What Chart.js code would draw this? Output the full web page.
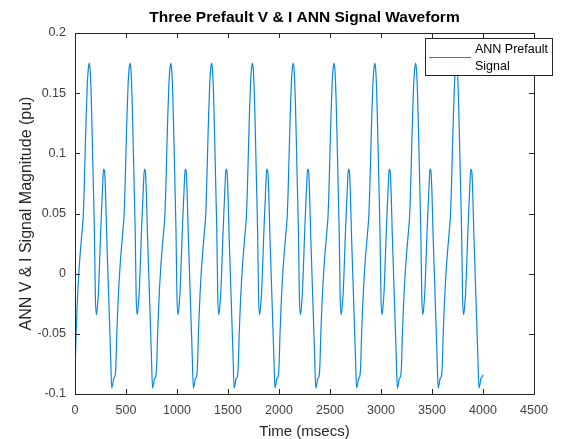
<!DOCTYPE html>
<html>
<head>
<meta charset="utf-8">
<script src="https://cdn.jsdelivr.net/npm/chart.js@4.4.0/dist/chart.umd.min.js"></script>
<style>
  html, body { margin: 0; padding: 0; background: #ffffff; }
  #wrap { width: 562px; height: 439px; }
</style>
</head>
<body>
<div id="wrap"><canvas id="chart" width="562" height="439"></canvas></div>
<script>
const chartTitle = "Three Prefault V & I ANN Signal Waveform";
const xTitle = "Time (msecs)";
const yTitle = "ANN V & I Signal Magnitude (pu)";
const legendLines = ["ANN Prefault", "Signal"];

const xTicks = [0, 500, 1000, 1500, 2000, 2500, 3000, 3500, 4000, 4500];
const yTicks = [-0.1, -0.05, 0, 0.05, 0.1, 0.15, 0.2];

// one sample every 10 ms, 0 .. 4000 ms
const sampleStepMs = 10;
const signalValues = [
  -0.083, -0.052, -0.029, -0.011, 0.004, 0.016, 0.026, 0.036, 0.047, 0.070, 0.102, 0.132, 0.156, 0.170, 0.175, 0.167, 0.144, 0.110, 0.073, 0.036,
  -0.020, -0.034, -0.027, -0.015, 0.007, 0.031, 0.052, 0.071, 0.087, 0.085, 0.066, 0.034, 0.008, -0.018, -0.044, -0.070, -0.095, -0.092, -0.087, -0.086,
  -0.078, -0.050, -0.028, -0.010, 0.004, 0.016, 0.026, 0.036, 0.047, 0.070, 0.102, 0.132, 0.156, 0.170, 0.175, 0.167, 0.144, 0.110, 0.073, 0.036,
  -0.020, -0.034, -0.027, -0.015, 0.007, 0.031, 0.052, 0.071, 0.087, 0.085, 0.066, 0.034, 0.008, -0.018, -0.044, -0.070, -0.095, -0.092, -0.087, -0.086,
  -0.078, -0.050, -0.028, -0.010, 0.004, 0.016, 0.026, 0.036, 0.047, 0.070, 0.102, 0.132, 0.156, 0.170, 0.175, 0.167, 0.144, 0.110, 0.073, 0.036,
  -0.020, -0.034, -0.027, -0.015, 0.007, 0.031, 0.052, 0.071, 0.087, 0.085, 0.066, 0.034, 0.008, -0.018, -0.044, -0.070, -0.095, -0.092, -0.087, -0.086,
  -0.078, -0.050, -0.028, -0.010, 0.004, 0.016, 0.026, 0.036, 0.047, 0.070, 0.102, 0.132, 0.156, 0.170, 0.175, 0.167, 0.144, 0.110, 0.073, 0.036,
  -0.020, -0.034, -0.027, -0.015, 0.007, 0.031, 0.052, 0.071, 0.087, 0.085, 0.066, 0.034, 0.008, -0.018, -0.044, -0.070, -0.095, -0.092, -0.087, -0.086,
  -0.078, -0.050, -0.028, -0.010, 0.004, 0.016, 0.026, 0.036, 0.047, 0.070, 0.102, 0.132, 0.156, 0.170, 0.175, 0.167, 0.144, 0.110, 0.073, 0.036,
  -0.020, -0.034, -0.027, -0.015, 0.007, 0.031, 0.052, 0.071, 0.087, 0.085, 0.066, 0.034, 0.008, -0.018, -0.044, -0.070, -0.095, -0.092, -0.087, -0.086,
  -0.078, -0.050, -0.028, -0.010, 0.004, 0.016, 0.026, 0.036, 0.047, 0.070, 0.102, 0.132, 0.156, 0.170, 0.175, 0.167, 0.144, 0.110, 0.073, 0.036,
  -0.020, -0.034, -0.027, -0.015, 0.007, 0.031, 0.052, 0.071, 0.087, 0.085, 0.066, 0.034, 0.008, -0.018, -0.044, -0.070, -0.095, -0.092, -0.087, -0.086,
  -0.078, -0.050, -0.028, -0.010, 0.004, 0.016, 0.026, 0.036, 0.047, 0.070, 0.102, 0.132, 0.156, 0.170, 0.175, 0.167, 0.144, 0.110, 0.073, 0.036,
  -0.020, -0.034, -0.027, -0.015, 0.007, 0.031, 0.052, 0.071, 0.087, 0.085, 0.066, 0.034, 0.008, -0.018, -0.044, -0.070, -0.095, -0.092, -0.087, -0.086,
  -0.078, -0.050, -0.028, -0.010, 0.004, 0.016, 0.026, 0.036, 0.047, 0.070, 0.102, 0.132, 0.156, 0.170, 0.175, 0.167, 0.144, 0.110, 0.073, 0.036,
  -0.020, -0.034, -0.027, -0.015, 0.007, 0.031, 0.052, 0.071, 0.087, 0.085, 0.066, 0.034, 0.008, -0.018, -0.044, -0.070, -0.095, -0.092, -0.087, -0.086,
  -0.078, -0.050, -0.028, -0.010, 0.004, 0.016, 0.026, 0.036, 0.047, 0.070, 0.102, 0.132, 0.156, 0.170, 0.175, 0.167, 0.144, 0.110, 0.073, 0.036,
  -0.020, -0.034, -0.027, -0.015, 0.007, 0.031, 0.052, 0.071, 0.087, 0.085, 0.066, 0.034, 0.008, -0.018, -0.044, -0.070, -0.095, -0.092, -0.087, -0.086,
  -0.078, -0.050, -0.028, -0.010, 0.004, 0.016, 0.026, 0.036, 0.047, 0.070, 0.102, 0.132, 0.156, 0.170, 0.175, 0.167, 0.144, 0.110, 0.073, 0.036,
  -0.020, -0.034, -0.027, -0.015, 0.007, 0.031, 0.052, 0.071, 0.087, 0.085, 0.066, 0.034, 0.008, -0.018, -0.044, -0.070, -0.095, -0.092, -0.087, -0.086,
  -0.084
];

const lineColor = "#0b88dc";
const axisColor = "#262626";
const fontFamily = "'Liberation Sans', Arial, sans-serif";

// MATLAB-style box, inward ticks on all four sides, title over the axes and the legend box
const matlabAxes = {
  id: "matlabAxes",
  afterDatasetsDraw(chart) {
    const { ctx, chartArea: a, scales } = chart;
    const tickLen = 5;
    ctx.save();
    ctx.strokeStyle = axisColor;
    ctx.lineWidth = 1;
    ctx.strokeRect(Math.round(a.left) + 0.5, Math.round(a.top) + 0.5,
      Math.round(a.right - a.left), Math.round(a.bottom - a.top));

    ctx.beginPath();
    xTicks.forEach(v => {
      const x = Math.round(scales.x.getPixelForValue(v)) + 0.5;
      ctx.moveTo(x, a.bottom); ctx.lineTo(x, a.bottom - tickLen);
      ctx.moveTo(x, a.top); ctx.lineTo(x, a.top + tickLen);
    });
    yTicks.forEach(v => {
      const y = Math.round(scales.y.getPixelForValue(v)) + 0.5;
      ctx.moveTo(a.left, y); ctx.lineTo(a.left + tickLen, y);
      ctx.moveTo(a.right, y); ctx.lineTo(a.right - tickLen, y);
    });
    ctx.stroke();

    // title, centred over the plot box
    ctx.fillStyle = "#000000";
    ctx.font = "bold 15.5px " + fontFamily;
    ctx.textAlign = "center";
    ctx.textBaseline = "middle";
    ctx.fillText(chartTitle, (a.left + a.right) / 2, 17.5);

    // legend
    const lx = 425.5, ly = 38.5, lw = 127, lh = 37;
    ctx.fillStyle = "#ffffff";
    ctx.fillRect(lx, ly, lw, lh);
    ctx.strokeStyle = axisColor;
    ctx.strokeRect(lx, ly, lw, lh);
    ctx.strokeStyle = lineColor;
    ctx.lineWidth = 1.2;
    ctx.beginPath();
    ctx.moveTo(429, 57.5); ctx.lineTo(471, 57.5);
    ctx.stroke();
    ctx.fillStyle = "#000000";
    ctx.font = "12.5px " + fontFamily;
    ctx.textBaseline = "middle";
    ctx.textAlign = "left";
    ctx.fillText(legendLines[0], 475, 50);
    ctx.fillText(legendLines[1], 475, 66.5);
    ctx.restore();
  }
};

const tickFont = { family: fontFamily, size: 12.5 };

new Chart(document.getElementById("chart"), {
  type: "line",
  data: {
    datasets: [{
      label: legendLines.join(" "),
      data: signalValues.map((v, i) => ({ x: i * sampleStepMs, y: v })),
      borderColor: lineColor,
      borderWidth: 1.2,
      pointRadius: 0,
      cubicInterpolationMode: "monotone",
      fill: false
    }]
  },
  options: {
    responsive: false,
    animation: false,
    layout: { padding: { left: 0, right: 28, top: 33, bottom: 0 } },
    plugins: {
      legend: { display: false },
      tooltip: { enabled: false },
      title: { display: false }
    },
    scales: {
      x: {
        type: "linear",
        min: 0,
        max: 4500,
        afterBuildTicks: s => { s.ticks = xTicks.map(v => ({ value: v })); },
        afterFit: s => { s.height = 45; },
        grid: { display: false, drawTicks: false },
        border: { display: false },
        ticks: {
          color: "#404040",
          font: tickFont,
          padding: 9,
          maxRotation: 0,
          autoSkip: false,
          callback: v => String(v)
        },
        title: { display: true, text: xTitle, color: "#262626", font: { family: fontFamily, size: 15 }, padding: { top: 0, bottom: -2 } }
      },
      y: {
        type: "linear",
        min: -0.1,
        max: 0.2,
        afterBuildTicks: s => { s.ticks = yTicks.map(v => ({ value: v })); },
        afterFit: s => { s.width = 75; },
        grid: { display: false, drawTicks: false },
        border: { display: false },
        ticks: {
          color: "#404040",
          font: tickFont,
          padding: 9,
          autoSkip: false,
          callback: v => String(v)
        },
        title: { display: true, text: yTitle, color: "#262626", font: { family: fontFamily, size: 16 }, padding: { top: 17, bottom: 0 } }
      }
    }
  },
  plugins: [matlabAxes]
});
</script>
</body>
</html>
